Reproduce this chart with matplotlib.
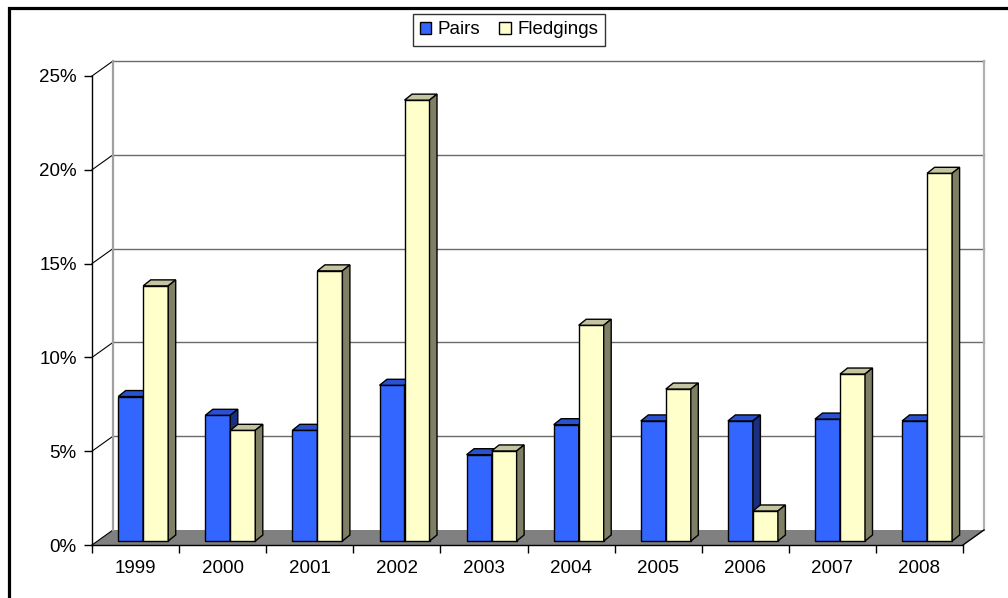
import matplotlib
matplotlib.use("Agg")
import matplotlib.pyplot as plt
from matplotlib.patches import Polygon, Rectangle
from matplotlib.ticker import FuncFormatter

plt.rcParams["font.family"] = ["Liberation Sans", "DejaVu Sans"]
plt.rcParams["font.size"] = 13.5

# Data
years = ["1999", "2000", "2001", "2002", "2003", "2004", "2005", "2006", "2007", "2008"]
pairs = [7.7, 6.7, 5.9, 8.3, 4.6, 6.2, 6.4, 6.4, 6.5, 6.4]
fledgings = [13.6, 5.9, 14.4, 23.5, 4.8, 11.5, 8.1, 1.6, 8.9, 19.6]
series_names = ["Pairs", "Fledgings"]

# colours: front, top, side
blue = ("#3366ff", "#2a52d0", "#1a2f80")
cream = ("#ffffcc", "#c4c4a0", "#7f7f66")

# pseudo-3d geometry (data units)
DX, DY = 0.241, 0.80      # depth of the wall / floor
FX, FY = 0.088, 0.213     # offset of the bar fronts
BX, BY = 0.086, 0.32      # depth of a bar
W = 0.287                 # bar width
YMAX = 25

W_PX, H_PX = 1008, 598
fig = plt.figure(figsize=(W_PX / 100, H_PX / 100), dpi=100)
ax = fig.add_axes([92 / W_PX, (H_PX - 545) / H_PX, (963 - 92) / W_PX, (545 - 76) / H_PX])
ax.set_xlim(0, len(years))
ax.set_ylim(0, YMAX)
ax.patch.set_visible(False)

# floor
ax.add_patch(Polygon([(0, 0), (len(years), 0), (len(years) + DX, DY), (DX, DY)],
                     closed=True, facecolor="#808080", edgecolor="none", zorder=1, clip_on=False))
ax.plot([len(years), len(years) + DX], [0, DY], color="black", lw=1, zorder=1.2, clip_on=False)

# back wall gridlines and left wall diagonals
for v in range(0, YMAX + 1, 5):
    if v > 0:
        ax.plot([DX, len(years) + DX], [v + DY, v + DY], color="#6a6a6a", lw=1,
                zorder=1.1, clip_on=False)
    ax.plot([0, DX], [v, v + DY], color="black", lw=0.8, zorder=1.1, clip_on=False)
ax.plot([DX, DX], [DY, YMAX + DY], color="#a0a0a0", lw=1.6, zorder=1.1, clip_on=False)
ax.plot([len(years) + DX] * 2, [DY, YMAX + DY], color="#b0b0b0", lw=1.6, zorder=1.1, clip_on=False)


def draw_bar(x0, v, cols, z):
    x1 = x0 + W
    top = FY + v
    ax.bar(x0, v, width=W, bottom=FY, align="edge", color=cols[0], edgecolor="black",
           lw=1, zorder=z, clip_on=False)
    ax.add_patch(Polygon([(x0, top), (x1, top), (x1 + BX, top + BY), (x0 + BX, top + BY)],
                         closed=True, facecolor=cols[1], edgecolor="black", lw=1,
                         zorder=z, clip_on=False))
    ax.add_patch(Polygon([(x1, FY), (x1 + BX, FY + BY), (x1 + BX, top + BY), (x1, top)],
                         closed=True, facecolor=cols[2], edgecolor="black", lw=1,
                         zorder=z, clip_on=False))


for i in range(len(years)):
    left = i + 0.5 - W + FX
    draw_bar(left, pairs[i], blue, 2 + i * 0.01)
    draw_bar(left + W, fledgings[i], cream, 2.005 + i * 0.01)

# axes
for side in ("top", "right"):
    ax.spines[side].set_visible(False)
for side in ("left", "bottom"):
    ax.spines[side].set_linewidth(1)
    ax.spines[side].set_zorder(1.3)
ax.set_yticks(range(0, YMAX + 1, 5))
ax.yaxis.set_major_formatter(FuncFormatter(lambda v, _: f"{v:.0f}%"))
ax.tick_params(axis="y", direction="out", length=6, width=1, pad=5)
ax.set_xticks([i + 0.5 for i in range(len(years))])
ax.set_xticklabels(years)
ax.set_xticks(range(len(years) + 1), minor=True)
ax.tick_params(axis="x", which="major", length=0, pad=11)
ax.tick_params(axis="x", which="minor", direction="out", length=5.5, width=1)

# legend
handles = [Rectangle((0, 0), 1, 1, facecolor=blue[0], edgecolor="black", lw=1),
           Rectangle((0, 0), 1, 1, facecolor=cream[0], edgecolor="black", lw=1)]
leg = fig.legend(handles, series_names, loc="upper center", ncol=2,
                 bbox_to_anchor=(509 / W_PX, 1 - 14 / H_PX), frameon=True, fancybox=False,
                 handlelength=0.6, handleheight=0.6, handletextpad=0.35, columnspacing=1.0,
                 borderpad=0.4, borderaxespad=0)
leg.get_frame().set_edgecolor("black")
leg.get_frame().set_linewidth(1)

# chart border
fig.add_artist(Rectangle((8.5 / W_PX, -0.1), 1.2, 1.1 - 8.5 / H_PX, transform=fig.transFigure,
                         fill=False, edgecolor="black", lw=2.3))

fig.savefig("out.png", dpi=100)
